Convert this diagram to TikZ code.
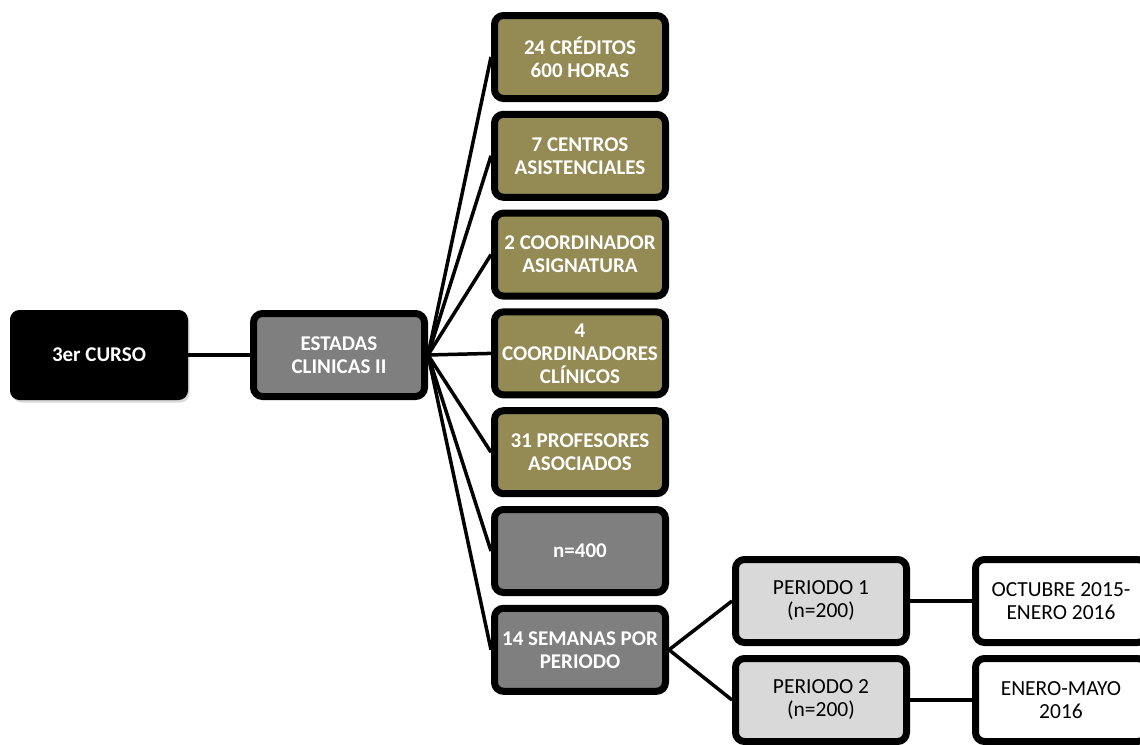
\documentclass[tikz,border=0pt]{standalone}
\usepackage{fontspec}
\setmainfont{Carlito}
\usetikzlibrary{shadows}
\definecolor{olivebox}{HTML}{948A54}
\definecolor{midgray}{HTML}{7F7F7F}
\definecolor{lightgray}{HTML}{D9D9D9}
\begin{document}
\begin{tikzpicture}[x=1pt,y=-1pt,
  box/.style={draw=black, line width=7pt, rounded corners=9pt,
    minimum width=171pt, minimum height=83pt, inner sep=1pt,
    align=center, font=\fontsize{21}{23}\selectfont\bfseries, text=white,
    drop shadow={opacity=0.3, shadow xshift=2pt, shadow yshift=-3pt}},
  rootbox/.style={box, fill=black, line width=1pt, minimum width=177pt, minimum height=89pt},
  graybox/.style={box, fill=midgray},
  olive/.style={box, fill=olivebox},
  periodbox/.style={box, fill=lightgray, text=black, font=\fontsize{21.5}{23}\selectfont},
  datebox/.style={box, fill=white, text=black, font=\fontsize{21.5}{23}\selectfont},
  link/.style={line width=3.5pt, black}]
\useasboundingbox (0,0) rectangle (1140,744);

% first level
\node[rootbox] (cur) at (99,355) {3er CURSO};
\node[graybox] (est) at (339,355) {ESTADAS\\CLINICAS II};

% second level column
\node[olive] (c1) at (580,57) {24 CRÉDITOS\\600 HORAS};
\node[olive] (c2) at (580,155.8) {7 CENTROS\\ASISTENCIALES};
\node[olive] (c3) at (580,254.6) {2 COORDINADOR\\ASIGNATURA};
\node[olive] (c4) at (580,353.4) {4\\COORDINADORES\\CLÍNICOS};
\node[olive] (c5) at (580,452.2) {31 PROFESORES\\ASOCIADOS};
\node[graybox] (c6) at (580,551) {n=400};
\node[graybox] (c7) at (580,649.8) {14 SEMANAS POR\\PERIODO};

% periods
\node[periodbox] (p1) at (821,601) {PERIODO 1\\(n=200)};
\node[periodbox] (p2) at (821,700) {PERIODO 2\\(n=200)};
\node[datebox] (d1) at (1061,601) {OCTUBRE 2015-\\ENERO 2016};
\node[datebox] (d2) at (1061,700) {ENERO-MAYO\\2016};

% connectors
\draw[link] (cur.east) -- (est.west);
\foreach \n in {c1,c2,c3,c4,c5,c6,c7}
  \draw[link] (est.east) -- (\n.west);
\draw[link] (c7.east) -- (p1.west);
\draw[link] (c7.east) -- (p2.west);
\draw[link] (p1.east) -- (d1.west);
\draw[link] (p2.east) -- (d2.west);
\end{tikzpicture}
\end{document}
